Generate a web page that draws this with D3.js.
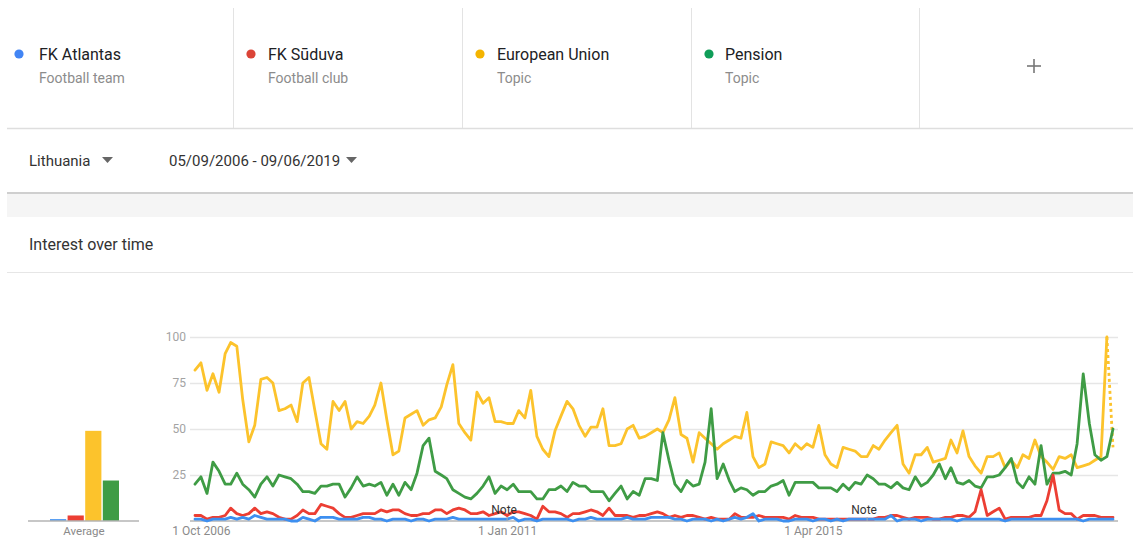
<!DOCTYPE html>
<html>
<head>
<meta charset="utf-8">
<script src="https://cdn.jsdelivr.net/npm/d3@7/dist/d3.min.js"></script>
<style>
  body { margin: 0; background: #fff; }
  svg { display: block; font-family: Roboto, "Noto Sans", Arial, sans-serif; }
</style>
</head>
<body>
<svg id="chart" width="1133" height="538"></svg>
<script>
// ---------------- DATA ----------------
const seriesNames = ["FK Atlantas", "FK Sūduva", "European Union", "Pension"];
const seriesTypes = ["Football team", "Football club", "Topic", "Topic"];
const region = "Lithuania";
const dateRange = "05/09/2006 - 09/06/2019";
const sectionTitle = "Interest over time";
const startMonth = new Date(2006, 8, 1);   // Sep 2006, monthly points to Jun 2019
const endMonth = new Date(2019, 5, 1);

const atlantas = [1,1,0,1,1,1,2,1,2,1, 3,2,1,1,1,1,0,0,2,1, 0,2,2,2,1,1,
  1,1,2,2,1,1,0,1,1,1, 0,1,1,0,1,1,1,2,1,1, 1,1,1,1,1,
  1,1,2,0,1,1,0,1,1,1, 1,1,0,1,1,2,1,1,1,1, 1,2,1,1,1,2,2,
  2,2,1,1,0,1,1,1,0,1, 0,1,2,1,2,4,0,1,1,1, 0,0,1,1,1,
  0,1,1,0,1,0,1,1,1,1, 1,1,1,3,0,1,1,1,0,1, 1,1,1,1,0,1,1,
  1,1,1,1,1,0,1,1,1,1, 1,1,1,1,1,1,1,1,0,1, 1,1,1,1];
const suduva = [3,3,1,2,2,3,7,4,3,4, 7,4,5,4,2,1,1,3,6,4, 4,9,8,7,4,2,
  2,3,4,4,4,6,5,6,6,4, 3,3,4,4,6,6,4,6,7,6, 4,4,5,3,4,
  5,3,5,5,4,3,1,8,5,5, 4,2,4,4,5,6,5,3,7,3, 3,3,2,3,3,4,5,
  4,2,3,2,3,3,2,1,2,1, 1,1,4,2,2,2,3,2,2,2, 2,1,3,2,2,
  2,1,1,1,1,1,1,1,1,1, 1,2,2,3,3,2,1,2,2,2, 1,1,2,2,3,3,2,
  5,17,3,5,7,1,2,2,2,2, 3,3,11,25,6,4,4,1,3,3, 3,2,2,2];
const europeanUnion = [82,86,71,80,70,91,97,95,66,43,
  52,77,78,75,60,61,63,54,75,78,
  60,42,39,65,60,65,50,54,53,57,
  63,75,55,36,38,56,58,60,52,55,
  56,62,74,85,53,48,44,70,64,67,
  54,54,53,53,60,56,71,46,39,35,
  49,57,65,61,52,46,51,51,61,41,
  41,42,50,52,45,46,48,50,48,55,
  67,47,45,32,48,45,42,39,42,44,
  46,45,59,35,29,31,43,42,41,37,
  42,39,42,40,52,36,31,29,40,39,
  38,35,35,41,39,44,48,52,31,26,
  36,36,40,32,33,34,44,37,49,35,
  30,26,35,35,37,29,33,29,36,34,
  44,35,32,28,35,34,36,29,30,31,
  33,35,100,40];
const pension = [20,24,15,32,27,20,20,26,20,17,
  13,20,24,19,25,24,23,20,16,16,
  15,19,19,20,20,13,18,24,19,20,
  19,21,14,20,14,21,17,26,41,45,
  27,25,23,17,15,13,12,15,19,24,
  15,19,17,20,16,16,16,12,12,17,
  17,19,16,21,19,19,16,16,16,11,
  15,19,12,16,14,23,23,22,48,33,
  20,16,22,19,20,32,61,23,31,22,
  16,18,17,14,16,16,19,20,22,14,
  21,21,21,21,18,18,18,16,20,17,
  21,20,25,23,20,20,18,21,18,17,
  24,19,21,25,31,23,29,21,20,22,
  19,18,24,24,25,29,34,21,18,24,
  20,41,20,26,26,27,25,42,80,53,
  36,33,35,50];
const averages = [1, 3, 49, 22];
const averageLabel = "Average";
const yTicks = [25, 50, 75, 100];
const xTickDates = [new Date(2006, 9, 1), new Date(2011, 0, 1), new Date(2015, 3, 1)];
const noteDates = [new Date(2011, 0, 1), new Date(2016, 0, 1)];
const noteLabel = "Note";

// ---------------- STYLE ----------------
const dotColors = ["#4285f4", "#db4437", "#f4b400", "#0f9d58"];
const lineColors = ["#3d8ff0", "#ec3e33", "#fcc32c", "#3f9c45"];

const svg = d3.select("#chart");
const W = 1133;

// ---------------- HEADER ----------------
const sepX = [233, 462, 691, 919];
svg.selectAll(".sep").data(sepX).join("line")
  .attr("x1", d => d + 0.5).attr("x2", d => d + 0.5)
  .attr("y1", 8).attr("y2", 128)
  .attr("stroke", "#e3e3e3").attr("stroke-width", 1);
svg.append("line").attr("x1", 7).attr("x2", W).attr("y1", 128.5).attr("y2", 128.5)
  .attr("stroke", "#dedede").attr("stroke-width", 1.5);

const dotX = [19, 251, 480, 709];
const textX = [39, 268, 497, 725];
const leg = svg.selectAll(".leg").data(seriesNames).join("g");
leg.append("circle").attr("cx", (d, i) => dotX[i]).attr("cy", 54).attr("r", 4.6)
  .attr("fill", (d, i) => dotColors[i]);
leg.append("text").attr("x", (d, i) => textX[i]).attr("y", 60)
  .attr("font-size", 16).attr("fill", "#202124").text(d => d);
leg.append("text").attr("x", (d, i) => textX[i]).attr("y", 83)
  .attr("font-size", 14).attr("fill", "#8c8c8c").text((d, i) => seriesTypes[i]);

// plus sign
svg.append("line").attr("x1", 1027).attr("x2", 1041).attr("y1", 66).attr("y2", 66)
  .attr("stroke", "#777").attr("stroke-width", 1.6);
svg.append("line").attr("x1", 1034).attr("x2", 1034).attr("y1", 59).attr("y2", 73)
  .attr("stroke", "#777").attr("stroke-width", 1.6);

// filters row
svg.append("text").attr("x", 29).attr("y", 166).attr("font-size", 15).attr("fill", "#333").text(region);
svg.append("path").attr("d", "M102,157 L113,157 L107.5,163 Z").attr("fill", "#666");
svg.append("text").attr("x", 169).attr("y", 166).attr("font-size", 15).attr("fill", "#333").text(dateRange);
svg.append("path").attr("d", "M346,157 L357,157 L351.5,163 Z").attr("fill", "#666");

// grey band
svg.append("rect").attr("x", 7).attr("y", 193).attr("width", W - 7).attr("height", 24).attr("fill", "#f5f5f5");
svg.append("line").attr("x1", 7).attr("x2", W).attr("y1", 193).attr("y2", 193)
  .attr("stroke", "#cfcfcf").attr("stroke-width", 2);

svg.append("text").attr("x", 29).attr("y", 250).attr("font-size", 16).attr("fill", "#333").text(sectionTitle);
svg.append("line").attr("x1", 7).attr("x2", W).attr("y1", 272.5).attr("y2", 272.5)
  .attr("stroke", "#e6e6e6").attr("stroke-width", 1);

// ---------------- CHART ----------------
const months = d3.timeMonth.range(startMonth, d3.timeMonth.offset(endMonth, 1));
const x = d3.scaleTime().domain([startMonth, endMonth]).range([195, 1113]);
const y = d3.scaleLinear().domain([0, 100]).range([521, 337]);

// gridlines + y labels
const yAxis = d3.axisLeft(y).tickValues(yTicks).tickSize(-(1118 - 190)).tickPadding(4);
const gy = svg.append("g").attr("transform", "translate(190,0)").call(yAxis);
gy.select(".domain").remove();
gy.selectAll(".tick line").attr("stroke", "#e6e6e6").attr("stroke-width", 1.5);
gy.selectAll(".tick text").attr("fill", "#a3a3a3").attr("font-size", 12)
  .attr("font-family", "Roboto, Arial, sans-serif");

// baseline
svg.append("line").attr("x1", 190).attr("x2", 1118).attr("y1", 521).attr("y2", 521)
  .attr("stroke", "#b5b5b5").attr("stroke-width", 1.5);

// x axis labels
const xAxis = d3.axisBottom(x).tickValues(xTickDates).tickFormat(d3.timeFormat("%-d %b %Y")).tickSize(0).tickPadding(5);
const gx = svg.append("g").attr("transform", "translate(0,521)").call(xAxis);
gx.select(".domain").remove();
gx.selectAll(".tick text").attr("fill", "#8a8a8a").attr("font-size", 12)
  .attr("font-family", "Roboto, Arial, sans-serif");

// lines
const allSeries = [atlantas, suduva, europeanUnion, pension];
const line = d3.line().x((d, i) => x(months[i])).y(d => y(d));
const drawOrder = [2, 3, 1, 0];
drawOrder.forEach(si => {
  const vals = allSeries[si];
  const isEU = si === 2;
  const solid = isEU ? vals.slice(0, vals.length - 1) : vals;
  svg.append("path").datum(solid)
    .attr("d", line).attr("fill", "none")
    .attr("stroke", lineColors[si]).attr("stroke-width", 2.8)
    .attr("stroke-linejoin", "round").attr("stroke-linecap", "round");
  if (isEU) {
    const n = vals.length;
    const seg = d3.line().x(d => x(months[d])).y(d => y(vals[d]));
    svg.append("path").datum([n - 2, n - 1])
      .attr("d", seg).attr("fill", "none")
      .attr("stroke", lineColors[si]).attr("stroke-width", 2.8)
      .attr("stroke-dasharray", "3,3");
  }
});

// notes
noteDates.forEach(dt => {
  svg.append("text").attr("x", x(dt) - 3).attr("y", 514).attr("text-anchor", "middle")
    .attr("font-size", 12).attr("fill", "#333").text(noteLabel);
  svg.append("line").attr("x1", x(dt)).attr("x2", x(dt)).attr("y1", 517).attr("y2", 521)
    .attr("stroke", "#aaa").attr("stroke-width", 1);
});

// average bars
const xb = d3.scaleBand().domain(d3.range(averages.length)).range([50, 119]).paddingInner(0.08);
svg.selectAll(".avg").data(averages).join("rect")
  .attr("x", (d, i) => xb(i)).attr("width", xb.bandwidth())
  .attr("y", d => y(d)).attr("height", d => y(0) - y(d))
  .attr("fill", (d, i) => lineColors[i]);
svg.append("line").attr("x1", 28).attr("x2", 139).attr("y1", 521).attr("y2", 521)
  .attr("stroke", "#b5b5b5").attr("stroke-width", 1.5);
svg.append("text").attr("x", 84).attr("y", 535).attr("text-anchor", "middle")
  .attr("font-size", 11.5).attr("fill", "#8a8a8a").text(averageLabel);
</script>
</body>
</html>
